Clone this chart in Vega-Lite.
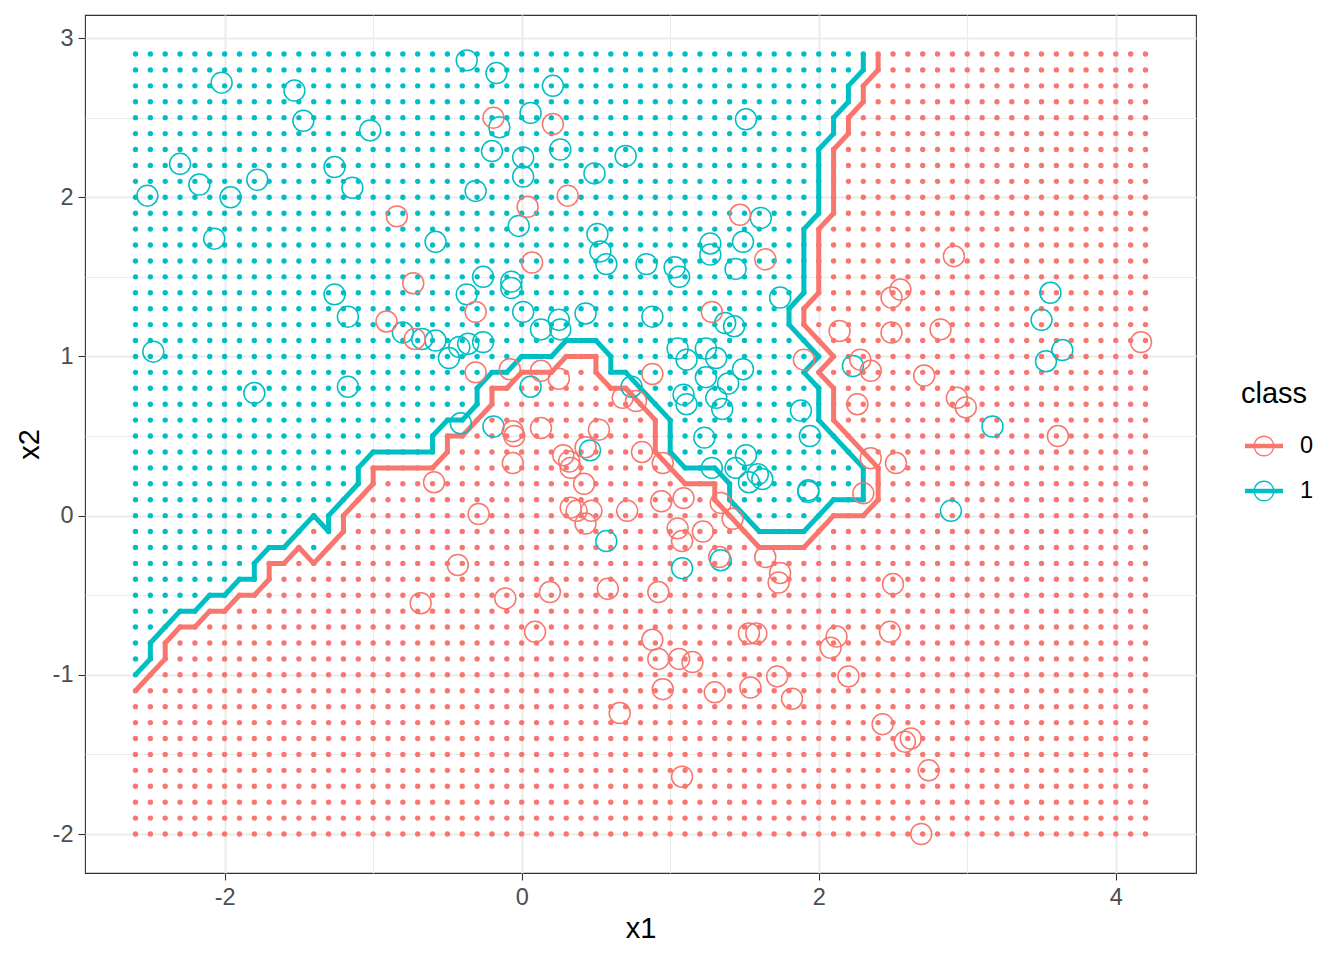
{
"$schema":"https://vega.github.io/schema/vega-lite/v6.json",
"width":1111,"height":858,
"autosize":{"type":"none"},
"padding":{"left":85,"top":15,"right":148,"bottom":87},
"background":"white",
"config":{"font":"Liberation Sans","view":{"stroke":"#333333","strokeWidth":1.1}},
"datasets":{
"grid":[
{"class":"1","x2":[2.9,2.8],"x1":[-2.6,-2.5,-2.4,-2.3,-2.2,-2.1,-2,-1.9,-1.8,-1.7,-1.6,-1.5,-1.4,-1.3,-1.2,-1.1,-1,-0.9,-0.8,-0.7,-0.6,-0.5,-0.4,-0.3,-0.2,-0.1,0,0.1,0.2,0.3,0.4,0.5,0.6,0.7,0.8,0.9,1,1.1,1.2,1.3,1.4,1.5,1.6,1.7,1.8,1.9,2,2.1,2.2,2.3]},
{"class":"1","x2":[2.7,2.6],"x1":[-2.6,-2.5,-2.4,-2.3,-2.2,-2.1,-2,-1.9,-1.8,-1.7,-1.6,-1.5,-1.4,-1.3,-1.2,-1.1,-1,-0.9,-0.8,-0.7,-0.6,-0.5,-0.4,-0.3,-0.2,-0.1,0,0.1,0.2,0.3,0.4,0.5,0.6,0.7,0.8,0.9,1,1.1,1.2,1.3,1.4,1.5,1.6,1.7,1.8,1.9,2,2.1,2.2]},
{"class":"0","x2":[2.7,2.6],"x1":[2.3]},
{"class":"1","x2":[2.5,2.4],"x1":[-2.6,-2.5,-2.4,-2.3,-2.2,-2.1,-2,-1.9,-1.8,-1.7,-1.6,-1.5,-1.4,-1.3,-1.2,-1.1,-1,-0.9,-0.8,-0.7,-0.6,-0.5,-0.4,-0.3,-0.2,-0.1,0,0.1,0.2,0.3,0.4,0.5,0.6,0.7,0.8,0.9,1,1.1,1.2,1.3,1.4,1.5,1.6,1.7,1.8,1.9,2,2.1]},
{"class":"0","x2":[2.5,2.4],"x1":[2.2,2.3]},
{"class":"1","x2":[2.3,2.2,2.1,2,1.9],"x1":[-2.6,-2.5,-2.4,-2.3,-2.2,-2.1,-2,-1.9,-1.8,-1.7,-1.6,-1.5,-1.4,-1.3,-1.2,-1.1,-1,-0.9,-0.8,-0.7,-0.6,-0.5,-0.4,-0.3,-0.2,-0.1,0,0.1,0.2,0.3,0.4,0.5,0.6,0.7,0.8,0.9,1,1.1,1.2,1.3,1.4,1.5,1.6,1.7,1.8,1.9,2]},
{"class":"0","x2":[2.3,2.2,2.1,2,1.9],"x1":[2.1,2.2,2.3]},
{"class":"1","x2":[1.8,1.7,1.6,1.5,1.4,1.1],"x1":[-2.6,-2.5,-2.4,-2.3,-2.2,-2.1,-2,-1.9,-1.8,-1.7,-1.6,-1.5,-1.4,-1.3,-1.2,-1.1,-1,-0.9,-0.8,-0.7,-0.6,-0.5,-0.4,-0.3,-0.2,-0.1,0,0.1,0.2,0.3,0.4,0.5,0.6,0.7,0.8,0.9,1,1.1,1.2,1.3,1.4,1.5,1.6,1.7,1.8,1.9]},
{"class":"0","x2":[1.8,1.7,1.6,1.5,1.4,1.1],"x1":[2,2.1,2.2,2.3]},
{"class":"1","x2":[1.3,1.2],"x1":[-2.6,-2.5,-2.4,-2.3,-2.2,-2.1,-2,-1.9,-1.8,-1.7,-1.6,-1.5,-1.4,-1.3,-1.2,-1.1,-1,-0.9,-0.8,-0.7,-0.6,-0.5,-0.4,-0.3,-0.2,-0.1,0,0.1,0.2,0.3,0.4,0.5,0.6,0.7,0.8,0.9,1,1.1,1.2,1.3,1.4,1.5,1.6,1.7,1.8]},
{"class":"0","x2":[1.3,1.2],"x1":[1.9,2,2.1,2.2,2.3]},
{"class":"1","x2":[1],"x1":[-2.6,-2.5,-2.4,-2.3,-2.2,-2.1,-2,-1.9,-1.8,-1.7,-1.6,-1.5,-1.4,-1.3,-1.2,-1.1,-1,-0.9,-0.8,-0.7,-0.6,-0.5,-0.4,-0.3,-0.2,-0.1,0,0.1,0.2]},
{"class":"0","x2":[1],"x1":[0.3,0.4,0.5]},
{"class":"1","x2":[1],"x1":[0.6,0.7,0.8,0.9,1,1.1,1.2,1.3,1.4,1.5,1.6,1.7,1.8,1.9,2]},
{"class":"0","x2":[1,0.8,0.7,0.6],"x1":[2.1,2.2,2.3]},
{"class":"1","x2":[0.9],"x1":[-2.6,-2.5,-2.4,-2.3,-2.2,-2.1,-2,-1.9,-1.8,-1.7,-1.6,-1.5,-1.4,-1.3,-1.2,-1.1,-1,-0.9,-0.8,-0.7,-0.6,-0.5,-0.4,-0.3,-0.2,-0.1]},
{"class":"0","x2":[0.9],"x1":[0,0.1,0.2,0.3,0.4,0.5]},
{"class":"1","x2":[0.9],"x1":[0.6,0.7,0.8,0.9,1,1.1,1.2,1.3,1.4,1.5,1.6,1.7,1.8,1.9]},
{"class":"0","x2":[0.9],"x1":[2,2.1,2.2,2.3]},
{"class":"1","x2":[0.8,0.7],"x1":[-2.6,-2.5,-2.4,-2.3,-2.2,-2.1,-2,-1.9,-1.8,-1.7,-1.6,-1.5,-1.4,-1.3,-1.2,-1.1,-1,-0.9,-0.8,-0.7,-0.6,-0.5,-0.4,-0.3]},
{"class":"0","x2":[0.8],"x1":[-0.2,-0.1,0,0.1,0.2,0.3,0.4,0.5,0.6,0.7]},
{"class":"1","x2":[0.8],"x1":[0.8,0.9,1,1.1,1.2,1.3,1.4,1.5,1.6,1.7,1.8,1.9,2]},
{"class":"0","x2":[0.7],"x1":[-0.2,-0.1,0,0.1,0.2,0.3,0.4,0.5,0.6,0.7,0.8]},
{"class":"1","x2":[0.7],"x1":[0.9,1,1.1,1.2,1.3,1.4,1.5,1.6,1.7,1.8,1.9,2]},
{"class":"1","x2":[0.6],"x1":[-2.6,-2.5,-2.4,-2.3,-2.2,-2.1,-2,-1.9,-1.8,-1.7,-1.6,-1.5,-1.4,-1.3,-1.2,-1.1,-1,-0.9,-0.8,-0.7,-0.6,-0.5,-0.4]},
{"class":"0","x2":[0.6],"x1":[-0.3,-0.2,-0.1,0,0.1,0.2,0.3,0.4,0.5,0.6,0.7,0.8,0.9]},
{"class":"1","x2":[0.6],"x1":[1,1.1,1.2,1.3,1.4,1.5,1.6,1.7,1.8,1.9,2]},
{"class":"1","x2":[0.5,0.4],"x1":[-2.6,-2.5,-2.4,-2.3,-2.2,-2.1,-2,-1.9,-1.8,-1.7,-1.6,-1.5,-1.4,-1.3,-1.2,-1.1,-1,-0.9,-0.8,-0.7,-0.6]},
{"class":"0","x2":[0.5,0.4],"x1":[-0.5,-0.4,-0.3,-0.2,-0.1,0,0.1,0.2,0.3,0.4,0.5,0.6,0.7,0.8,0.9]},
{"class":"1","x2":[0.5],"x1":[1,1.1,1.2,1.3,1.4,1.5,1.6,1.7,1.8,1.9,2,2.1]},
{"class":"0","x2":[0.5],"x1":[2.2,2.3]},
{"class":"1","x2":[0.4],"x1":[1,1.1,1.2,1.3,1.4,1.5,1.6,1.7,1.8,1.9,2,2.1,2.2]},
{"class":"0","x2":[0.4],"x1":[2.3]},
{"class":"1","x2":[0.3,0.2],"x1":[-2.6,-2.5,-2.4,-2.3,-2.2,-2.1,-2,-1.9,-1.8,-1.7,-1.6,-1.5,-1.4,-1.3,-1.2,-1.1]},
{"class":"0","x2":[0.3],"x1":[-1,-0.9,-0.8,-0.7,-0.6,-0.5,-0.4,-0.3,-0.2,-0.1,0,0.1,0.2,0.3,0.4,0.5,0.6,0.7,0.8,0.9,1]},
{"class":"1","x2":[0.3],"x1":[1.1,1.2,1.3,1.4,1.5,1.6,1.7,1.8,1.9,2,2.1,2.2,2.3]},
{"class":"0","x2":[0.2],"x1":[-1,-0.9,-0.8,-0.7,-0.6,-0.5,-0.4,-0.3,-0.2,-0.1,0,0.1,0.2,0.3,0.4,0.5,0.6,0.7,0.8,0.9,1,1.1,1.2,1.3]},
{"class":"1","x2":[0.2,0.1],"x1":[1.4,1.5,1.6,1.7,1.8,1.9,2,2.1,2.2,2.3]},
{"class":"1","x2":[0.1],"x1":[-2.6,-2.5,-2.4,-2.3,-2.2,-2.1,-2,-1.9,-1.8,-1.7,-1.6,-1.5,-1.4,-1.3,-1.2]},
{"class":"0","x2":[0.1],"x1":[-1.1,-1,-0.9,-0.8,-0.7,-0.6,-0.5,-0.4,-0.3,-0.2,-0.1,0,0.1,0.2,0.3,0.4,0.5,0.6,0.7,0.8,0.9,1,1.1,1.2,1.3]},
{"class":"1","x2":[0],"x1":[-2.6,-2.5,-2.4,-2.3,-2.2,-2.1,-2,-1.9,-1.8,-1.7,-1.6,-1.5,-1.4,-1.3,1.5,1.6,1.7,1.8,1.9,2]},
{"class":"0","x2":[0],"x1":[-1.2,-1.1,-1,-0.9,-0.8,-0.7,-0.6,-0.5,-0.4,-0.3,-0.2,-0.1,0,0.1,0.2,0.3,0.4,0.5,0.6,0.7,0.8,0.9,1,1.1,1.2,1.3,1.4,2.1,2.2,2.3]},
{"class":"1","x2":[-0.1],"x1":[-2.6,-2.5,-2.4,-2.3,-2.2,-2.1,-2,-1.9,-1.8,-1.7,-1.6,-1.5,-1.3,1.6,1.7,1.8,1.9]},
{"class":"0","x2":[-0.1],"x1":[-1.4,-1.2,-1.1,-1,-0.9,-0.8,-0.7,-0.6,-0.5,-0.4,-0.3,-0.2,-0.1,0,0.1,0.2,0.3,0.4,0.5,0.6,0.7,0.8,0.9,1,1.1,1.2,1.3,1.4,1.5,2,2.1,2.2,2.3]},
{"class":"1","x2":[-0.2],"x1":[-2.6,-2.5,-2.4,-2.3,-2.2,-2.1,-2,-1.9,-1.8,-1.7,-1.6,-1.4]},
{"class":"0","x2":[-0.2],"x1":[-1.5,-1.3,-1.2,-1.1,-1,-0.9,-0.8,-0.7,-0.6,-0.5,-0.4,-0.3,-0.2,-0.1,0,0.1,0.2,0.3,0.4,0.5,0.6,0.7,0.8,0.9,1,1.1,1.2,1.3,1.4,1.5,1.6,1.7,1.8,1.9,2,2.1,2.2,2.3]},
{"class":"1","x2":[-0.3,-0.4],"x1":[-2.6,-2.5,-2.4,-2.3,-2.2,-2.1,-2,-1.9,-1.8]},
{"class":"0","x2":[-0.3,-0.4],"x1":[-1.7,-1.6,-1.5,-1.4,-1.3,-1.2,-1.1,-1,-0.9,-0.8,-0.7,-0.6,-0.5,-0.4,-0.3,-0.2,-0.1,0,0.1,0.2,0.3,0.4,0.5,0.6,0.7,0.8,0.9,1,1.1,1.2,1.3,1.4,1.5,1.6,1.7,1.8,1.9,2,2.1,2.2,2.3]},
{"class":"1","x2":[-0.5],"x1":[-2.6,-2.5,-2.4,-2.3,-2.2,-2.1,-2]},
{"class":"0","x2":[-0.5],"x1":[-1.9,-1.8,-1.7,-1.6,-1.5,-1.4,-1.3,-1.2,-1.1,-1,-0.9,-0.8,-0.7,-0.6,-0.5,-0.4,-0.3,-0.2,-0.1,0,0.1,0.2,0.3,0.4,0.5,0.6,0.7,0.8,0.9,1,1.1,1.2,1.3,1.4,1.5,1.6,1.7,1.8,1.9,2,2.1,2.2,2.3]},
{"class":"1","x2":[-0.6],"x1":[-2.6,-2.5,-2.4,-2.3,-2.2]},
{"class":"0","x2":[-0.6],"x1":[-2.1,-2,-1.9,-1.8,-1.7,-1.6,-1.5,-1.4,-1.3,-1.2,-1.1,-1,-0.9,-0.8,-0.7,-0.6,-0.5,-0.4,-0.3,-0.2,-0.1,0,0.1,0.2,0.3,0.4,0.5,0.6,0.7,0.8,0.9,1,1.1,1.2,1.3,1.4,1.5,1.6,1.7,1.8,1.9,2,2.1,2.2,2.3]},
{"class":"1","x2":[-0.7],"x1":[-2.6,-2.5,-2.4]},
{"class":"0","x2":[-0.7],"x1":[-2.3,-2.2,-2.1,-2,-1.9,-1.8,-1.7,-1.6,-1.5,-1.4,-1.3,-1.2,-1.1,-1,-0.9,-0.8,-0.7,-0.6,-0.5,-0.4,-0.3,-0.2,-0.1,0,0.1,0.2,0.3,0.4,0.5,0.6,0.7,0.8,0.9,1,1.1,1.2,1.3,1.4,1.5,1.6,1.7,1.8,1.9,2,2.1,2.2,2.3]},
{"class":"1","x2":[-0.8,-0.9],"x1":[-2.6,-2.5]},
{"class":"0","x2":[-0.8,-0.9],"x1":[-2.4,-2.3,-2.2,-2.1,-2,-1.9,-1.8,-1.7,-1.6,-1.5,-1.4,-1.3,-1.2,-1.1,-1,-0.9,-0.8,-0.7,-0.6,-0.5,-0.4,-0.3,-0.2,-0.1,0,0.1,0.2,0.3,0.4,0.5,0.6,0.7,0.8,0.9,1,1.1,1.2,1.3,1.4,1.5,1.6,1.7,1.8,1.9,2,2.1,2.2,2.3]},
{"class":"1","x2":[-1],"x1":[-2.6]},
{"class":"0","x2":[-1],"x1":[-2.5,-2.4,-2.3,-2.2,-2.1,-2,-1.9,-1.8,-1.7,-1.6,-1.5,-1.4,-1.3,-1.2,-1.1,-1,-0.9,-0.8,-0.7,-0.6,-0.5,-0.4,-0.3,-0.2,-0.1,0,0.1,0.2,0.3,0.4,0.5,0.6,0.7,0.8,0.9,1,1.1,1.2,1.3,1.4,1.5,1.6,1.7,1.8,1.9,2,2.1,2.2,2.3]},
{"class":"0","x2":[-1.1,-1.2,-1.3,-1.4,-1.5,-1.6,-1.7,-1.8,-1.9,-2],"x1":[-2.6,-2.5,-2.4,-2.3,-2.2,-2.1,-2,-1.9,-1.8,-1.7,-1.6,-1.5,-1.4,-1.3,-1.2,-1.1,-1,-0.9,-0.8,-0.7,-0.6,-0.5,-0.4,-0.3,-0.2,-0.1,0,0.1,0.2,0.3,0.4,0.5,0.6,0.7,0.8,0.9,1,1.1,1.2,1.3,1.4,1.5,1.6,1.7,1.8,1.9,2,2.1,2.2,2.3]},
{"class":"0","x2":[2.9,2.8,2.7,2.6,2.5,2.4,2.3,2.2,2.1,2,1.9,1.8,1.7,1.6,1.5,1.4,1.3,1.2,1.1,1,0.9,0.8,0.7,0.6,0.5,0.4,0.3,0.2,0.1,0,-0.1,-0.2,-0.3,-0.4,-0.5,-0.6,-0.7,-0.8,-0.9,-1,-1.1,-1.2,-1.3,-1.4,-1.5,-1.6,-1.7,-1.8,-1.9,-2],"x1":[2.4,2.5,2.6,2.7,2.8,2.9,3,3.1,3.2,3.3,3.4,3.5,3.6,3.7,3.8,3.9,4,4.1,4.2]}
],
"lines":[
{"class":"1","o":0,"x1":-2.6,"x2":-1},{"class":"1","o":1,"x1":-2.5,"x2":-0.9},{"class":"1","o":2,"x1":-2.5,"x2":-0.8},{"class":"1","o":3,"x1":-2.4,"x2":-0.7},{"class":"1","o":4,"x1":-2.3,"x2":-0.6},{"class":"1","o":5,"x1":-2.2,"x2":-0.6},{"class":"1","o":6,"x1":-2.1,"x2":-0.5},{"class":"1","o":7,"x1":-2,"x2":-0.5},{"class":"1","o":8,"x1":-1.9,"x2":-0.4},{"class":"1","o":9,"x1":-1.8,"x2":-0.4},{"class":"1","o":10,"x1":-1.8,"x2":-0.3},{"class":"1","o":11,"x1":-1.7,"x2":-0.2},{"class":"1","o":12,"x1":-1.6,"x2":-0.2},{"class":"1","o":13,"x1":-1.5,"x2":-0.1},{"class":"1","o":14,"x1":-1.4,"x2":0},{"class":"1","o":15,"x1":-1.3,"x2":-0.1},{"class":"1","o":16,"x1":-1.3,"x2":0},{"class":"1","o":17,"x1":-1.2,"x2":0.1},{"class":"1","o":18,"x1":-1.1,"x2":0.2},{"class":"1","o":19,"x1":-1.1,"x2":0.3},{"class":"1","o":20,"x1":-1,"x2":0.4},{"class":"1","o":21,"x1":-0.6,"x2":0.4},{"class":"1","o":22,"x1":-0.6,"x2":0.5},{"class":"1","o":23,"x1":-0.5,"x2":0.6},{"class":"1","o":24,"x1":-0.4,"x2":0.6},{"class":"1","o":25,"x1":-0.3,"x2":0.7},{"class":"1","o":26,"x1":-0.3,"x2":0.8},{"class":"1","o":27,"x1":-0.2,"x2":0.9},{"class":"1","o":28,"x1":-0.1,"x2":0.9},{"class":"1","o":29,"x1":0,"x2":1},{"class":"1","o":30,"x1":0.2,"x2":1},{"class":"1","o":31,"x1":0.3,"x2":1.1},{"class":"1","o":32,"x1":0.5,"x2":1.1},{"class":"1","o":33,"x1":0.6,"x2":1},{"class":"1","o":34,"x1":0.6,"x2":0.9},{"class":"1","o":35,"x1":0.7,"x2":0.9},{"class":"1","o":36,"x1":1,"x2":0.6},{"class":"1","o":37,"x1":1,"x2":0.4},{"class":"1","o":38,"x1":1.1,"x2":0.3},{"class":"1","o":39,"x1":1.3,"x2":0.3},{"class":"1","o":40,"x1":1.4,"x2":0.2},{"class":"1","o":41,"x1":1.4,"x2":0.1},{"class":"1","o":42,"x1":1.6,"x2":-0.1},{"class":"1","o":43,"x1":1.9,"x2":-0.1},{"class":"1","o":44,"x1":2.1,"x2":0.1},{"class":"1","o":45,"x1":2.3,"x2":0.1},{"class":"1","o":46,"x1":2.3,"x2":0.3},{"class":"1","o":47,"x1":2,"x2":0.6},{"class":"1","o":48,"x1":2,"x2":0.8},{"class":"1","o":49,"x1":1.9,"x2":0.9},{"class":"1","o":50,"x1":2,"x2":1},{"class":"1","o":51,"x1":1.8,"x2":1.2},{"class":"1","o":52,"x1":1.8,"x2":1.3},{"class":"1","o":53,"x1":1.9,"x2":1.4},{"class":"1","o":54,"x1":1.9,"x2":1.8},{"class":"1","o":55,"x1":2,"x2":1.9},{"class":"1","o":56,"x1":2,"x2":2.3},{"class":"1","o":57,"x1":2.1,"x2":2.4},{"class":"1","o":58,"x1":2.1,"x2":2.5},{"class":"1","o":59,"x1":2.2,"x2":2.6},{"class":"1","o":60,"x1":2.2,"x2":2.7},{"class":"1","o":61,"x1":2.3,"x2":2.8},{"class":"1","o":62,"x1":2.3,"x2":2.9},
{"class":"0","o":0,"x1":-2.6,"x2":-1.1},{"class":"0","o":1,"x1":-2.5,"x2":-1},{"class":"0","o":2,"x1":-2.4,"x2":-0.9},{"class":"0","o":3,"x1":-2.4,"x2":-0.8},{"class":"0","o":4,"x1":-2.3,"x2":-0.7},{"class":"0","o":5,"x1":-2.2,"x2":-0.7},{"class":"0","o":6,"x1":-2.1,"x2":-0.6},{"class":"0","o":7,"x1":-2,"x2":-0.6},{"class":"0","o":8,"x1":-1.9,"x2":-0.5},{"class":"0","o":9,"x1":-1.8,"x2":-0.5},{"class":"0","o":10,"x1":-1.7,"x2":-0.4},{"class":"0","o":11,"x1":-1.7,"x2":-0.3},{"class":"0","o":12,"x1":-1.6,"x2":-0.3},{"class":"0","o":13,"x1":-1.5,"x2":-0.2},{"class":"0","o":14,"x1":-1.4,"x2":-0.3},{"class":"0","o":15,"x1":-1.3,"x2":-0.2},{"class":"0","o":16,"x1":-1.2,"x2":-0.1},{"class":"0","o":17,"x1":-1.2,"x2":0},{"class":"0","o":18,"x1":-1.1,"x2":0.1},{"class":"0","o":19,"x1":-1,"x2":0.2},{"class":"0","o":20,"x1":-1,"x2":0.3},{"class":"0","o":21,"x1":-0.6,"x2":0.3},{"class":"0","o":22,"x1":-0.5,"x2":0.4},{"class":"0","o":23,"x1":-0.5,"x2":0.5},{"class":"0","o":24,"x1":-0.4,"x2":0.5},{"class":"0","o":25,"x1":-0.3,"x2":0.6},{"class":"0","o":26,"x1":-0.2,"x2":0.7},{"class":"0","o":27,"x1":-0.2,"x2":0.8},{"class":"0","o":28,"x1":-0.1,"x2":0.8},{"class":"0","o":29,"x1":0,"x2":0.9},{"class":"0","o":30,"x1":0.2,"x2":0.9},{"class":"0","o":31,"x1":0.3,"x2":1},{"class":"0","o":32,"x1":0.5,"x2":1},{"class":"0","o":33,"x1":0.5,"x2":0.9},{"class":"0","o":34,"x1":0.6,"x2":0.8},{"class":"0","o":35,"x1":0.7,"x2":0.8},{"class":"0","o":36,"x1":0.9,"x2":0.6},{"class":"0","o":37,"x1":0.9,"x2":0.4},{"class":"0","o":38,"x1":1.1,"x2":0.2},{"class":"0","o":39,"x1":1.3,"x2":0.2},{"class":"0","o":40,"x1":1.3,"x2":0.1},{"class":"0","o":41,"x1":1.6,"x2":-0.2},{"class":"0","o":42,"x1":1.9,"x2":-0.2},{"class":"0","o":43,"x1":2.1,"x2":0},{"class":"0","o":44,"x1":2.3,"x2":0},{"class":"0","o":45,"x1":2.4,"x2":0.1},{"class":"0","o":46,"x1":2.4,"x2":0.3},{"class":"0","o":47,"x1":2.1,"x2":0.6},{"class":"0","o":48,"x1":2.1,"x2":0.8},{"class":"0","o":49,"x1":2,"x2":0.9},{"class":"0","o":50,"x1":2.1,"x2":1},{"class":"0","o":51,"x1":1.9,"x2":1.2},{"class":"0","o":52,"x1":1.9,"x2":1.3},{"class":"0","o":53,"x1":2,"x2":1.4},{"class":"0","o":54,"x1":2,"x2":1.8},{"class":"0","o":55,"x1":2.1,"x2":1.9},{"class":"0","o":56,"x1":2.1,"x2":2.3},{"class":"0","o":57,"x1":2.2,"x2":2.4},{"class":"0","o":58,"x1":2.2,"x2":2.5},{"class":"0","o":59,"x1":2.3,"x2":2.6},{"class":"0","o":60,"x1":2.3,"x2":2.7},{"class":"0","o":61,"x1":2.4,"x2":2.8},{"class":"0","o":62,"x1":2.4,"x2":2.9}
],
"pts":[
{"x1":-2.52,"x2":2.01,"class":"1"},{"x1":-2.3,"x2":2.21,"class":"1"},{"x1":-2.17,"x2":2.08,"class":"1"},{"x1":-2.02,"x2":2.72,"class":"1"},{"x1":-2.07,"x2":1.74,"class":"1"},{"x1":-1.96,"x2":2.0,"class":"1"},{"x1":-1.78,"x2":2.11,"class":"1"},{"x1":-1.53,"x2":2.67,"class":"1"},{"x1":-1.47,"x2":2.48,"class":"1"},{"x1":-1.26,"x2":2.19,"class":"1"},{"x1":-1.14,"x2":2.06,"class":"1"},{"x1":-1.02,"x2":2.42,"class":"1"},{"x1":-0.58,"x2":1.72,"class":"1"},{"x1":-0.37,"x2":2.86,"class":"1"},{"x1":-0.17,"x2":2.78,"class":"1"},{"x1":0.21,"x2":2.7,"class":"1"},{"x1":-0.15,"x2":2.44,"class":"1"},{"x1":0.06,"x2":2.53,"class":"1"},{"x1":-0.2,"x2":2.29,"class":"1"},{"x1":0.26,"x2":2.3,"class":"1"},{"x1":0.01,"x2":2.25,"class":"1"},{"x1":0.01,"x2":2.13,"class":"1"},{"x1":0.7,"x2":2.26,"class":"1"},{"x1":0.49,"x2":2.15,"class":"1"},{"x1":-0.31,"x2":2.04,"class":"1"},{"x1":-0.02,"x2":1.82,"class":"1"},{"x1":0.51,"x2":1.77,"class":"1"},{"x1":0.53,"x2":1.66,"class":"1"},{"x1":0.57,"x2":1.58,"class":"1"},{"x1":0.84,"x2":1.58,"class":"1"},{"x1":1.03,"x2":1.56,"class":"1"},{"x1":1.06,"x2":1.5,"class":"1"},{"x1":1.27,"x2":1.71,"class":"1"},{"x1":1.27,"x2":1.64,"class":"1"},{"x1":1.49,"x2":1.72,"class":"1"},{"x1":1.61,"x2":1.87,"class":"1"},{"x1":1.44,"x2":1.55,"class":"1"},{"x1":1.51,"x2":2.49,"class":"1"},{"x1":1.74,"x2":1.37,"class":"1"},{"x1":-0.26,"x2":1.5,"class":"1"},{"x1":-0.07,"x2":1.47,"class":"1"},{"x1":-0.07,"x2":1.43,"class":"1"},{"x1":-0.37,"x2":1.39,"class":"1"},{"x1":-1.26,"x2":1.39,"class":"1"},{"x1":-1.17,"x2":1.25,"class":"1"},{"x1":-2.48,"x2":1.03,"class":"1"},{"x1":-1.8,"x2":0.77,"class":"1"},{"x1":-1.17,"x2":0.81,"class":"1"},{"x1":-0.8,"x2":1.15,"class":"1"},{"x1":-0.67,"x2":1.11,"class":"1"},{"x1":-0.58,"x2":1.1,"class":"1"},{"x1":-0.49,"x2":0.99,"class":"1"},{"x1":-0.42,"x2":1.06,"class":"1"},{"x1":-0.36,"x2":1.08,"class":"1"},{"x1":-0.26,"x2":1.09,"class":"1"},{"x1":-0.41,"x2":0.58,"class":"1"},{"x1":0.01,"x2":1.28,"class":"1"},{"x1":0.13,"x2":1.17,"class":"1"},{"x1":0.25,"x2":1.23,"class":"1"},{"x1":0.26,"x2":1.17,"class":"1"},{"x1":0.43,"x2":1.27,"class":"1"},{"x1":0.88,"x2":1.25,"class":"1"},{"x1":1.37,"x2":1.21,"class":"1"},{"x1":1.43,"x2":1.19,"class":"1"},{"x1":0.06,"x2":0.81,"class":"1"},{"x1":0.74,"x2":0.81,"class":"1"},{"x1":-0.19,"x2":0.56,"class":"1"},{"x1":0.46,"x2":0.41,"class":"1"},{"x1":0.57,"x2":-0.16,"class":"1"},{"x1":1.34,"x2":-0.28,"class":"1"},{"x1":1.08,"x2":-0.33,"class":"1"},{"x1":1.05,"x2":1.05,"class":"1"},{"x1":1.11,"x2":0.98,"class":"1"},{"x1":1.24,"x2":1.05,"class":"1"},{"x1":1.31,"x2":0.99,"class":"1"},{"x1":1.49,"x2":0.92,"class":"1"},{"x1":1.24,"x2":0.87,"class":"1"},{"x1":1.39,"x2":0.83,"class":"1"},{"x1":1.09,"x2":0.76,"class":"1"},{"x1":1.11,"x2":0.7,"class":"1"},{"x1":1.31,"x2":0.74,"class":"1"},{"x1":1.35,"x2":0.67,"class":"1"},{"x1":1.23,"x2":0.49,"class":"1"},{"x1":1.51,"x2":0.38,"class":"1"},{"x1":1.44,"x2":0.3,"class":"1"},{"x1":1.28,"x2":0.3,"class":"1"},{"x1":1.59,"x2":0.26,"class":"1"},{"x1":1.62,"x2":0.23,"class":"1"},{"x1":1.53,"x2":0.21,"class":"1"},{"x1":1.88,"x2":0.66,"class":"1"},{"x1":1.94,"x2":0.5,"class":"1"},{"x1":1.93,"x2":0.16,"class":"1"},{"x1":1.93,"x2":0.15,"class":"1"},{"x1":2.23,"x2":0.94,"class":"1"},{"x1":3.5,"x2":1.23,"class":"1"},{"x1":3.56,"x2":1.4,"class":"1"},{"x1":3.64,"x2":1.04,"class":"1"},{"x1":3.53,"x2":0.97,"class":"1"},{"x1":3.17,"x2":0.56,"class":"1"},{"x1":2.89,"x2":0.03,"class":"1"},
{"x1":-0.84,"x2":1.88,"class":"0"},{"x1":-0.73,"x2":1.46,"class":"0"},{"x1":-0.19,"x2":2.5,"class":"0"},{"x1":0.21,"x2":2.46,"class":"0"},{"x1":0.31,"x2":2.01,"class":"0"},{"x1":0.04,"x2":1.94,"class":"0"},{"x1":0.07,"x2":1.59,"class":"0"},{"x1":1.47,"x2":1.89,"class":"0"},{"x1":1.64,"x2":1.61,"class":"0"},{"x1":-0.31,"x2":1.28,"class":"0"},{"x1":1.28,"x2":1.28,"class":"0"},{"x1":-0.91,"x2":1.22,"class":"0"},{"x1":-0.72,"x2":1.11,"class":"0"},{"x1":-0.59,"x2":0.21,"class":"0"},{"x1":-0.43,"x2":-0.31,"class":"0"},{"x1":-0.31,"x2":0.9,"class":"0"},{"x1":-0.08,"x2":0.92,"class":"0"},{"x1":0.13,"x2":0.91,"class":"0"},{"x1":0.25,"x2":0.86,"class":"0"},{"x1":0.88,"x2":0.89,"class":"0"},{"x1":0.68,"x2":0.74,"class":"0"},{"x1":0.77,"x2":0.72,"class":"0"},{"x1":-0.06,"x2":0.53,"class":"0"},{"x1":-0.05,"x2":0.5,"class":"0"},{"x1":0.13,"x2":0.55,"class":"0"},{"x1":0.52,"x2":0.54,"class":"0"},{"x1":0.43,"x2":0.43,"class":"0"},{"x1":0.28,"x2":0.38,"class":"0"},{"x1":0.32,"x2":0.34,"class":"0"},{"x1":0.33,"x2":0.3,"class":"0"},{"x1":-0.06,"x2":0.33,"class":"0"},{"x1":0.81,"x2":0.4,"class":"0"},{"x1":0.95,"x2":0.33,"class":"0"},{"x1":0.42,"x2":0.2,"class":"0"},{"x1":0.33,"x2":0.05,"class":"0"},{"x1":0.37,"x2":0.03,"class":"0"},{"x1":0.47,"x2":0.03,"class":"0"},{"x1":0.43,"x2":-0.05,"class":"0"},{"x1":0.71,"x2":0.03,"class":"0"},{"x1":-0.29,"x2":0.01,"class":"0"},{"x1":0.94,"x2":0.09,"class":"0"},{"x1":1.09,"x2":0.11,"class":"0"},{"x1":1.05,"x2":-0.08,"class":"0"},{"x1":1.08,"x2":-0.16,"class":"0"},{"x1":1.22,"x2":-0.1,"class":"0"},{"x1":1.42,"x2":-0.02,"class":"0"},{"x1":1.34,"x2":0.08,"class":"0"},{"x1":1.33,"x2":-0.26,"class":"0"},{"x1":1.64,"x2":-0.26,"class":"0"},{"x1":1.74,"x2":-0.36,"class":"0"},{"x1":1.73,"x2":-0.42,"class":"0"},{"x1":-0.68,"x2":-0.55,"class":"0"},{"x1":-0.11,"x2":-0.52,"class":"0"},{"x1":0.19,"x2":-0.48,"class":"0"},{"x1":0.58,"x2":-0.46,"class":"0"},{"x1":0.92,"x2":-0.48,"class":"0"},{"x1":0.09,"x2":-0.73,"class":"0"},{"x1":0.88,"x2":-0.78,"class":"0"},{"x1":0.92,"x2":-0.9,"class":"0"},{"x1":1.06,"x2":-0.9,"class":"0"},{"x1":1.15,"x2":-0.92,"class":"0"},{"x1":1.53,"x2":-0.74,"class":"0"},{"x1":1.58,"x2":-0.74,"class":"0"},{"x1":0.95,"x2":-1.09,"class":"0"},{"x1":1.3,"x2":-1.11,"class":"0"},{"x1":1.54,"x2":-1.08,"class":"0"},{"x1":1.72,"x2":-1.01,"class":"0"},{"x1":1.82,"x2":-1.15,"class":"0"},{"x1":0.66,"x2":-1.24,"class":"0"},{"x1":1.08,"x2":-1.64,"class":"0"},{"x1":2.12,"x2":-0.76,"class":"0"},{"x1":2.08,"x2":-0.83,"class":"0"},{"x1":2.48,"x2":-0.73,"class":"0"},{"x1":2.2,"x2":-1.01,"class":"0"},{"x1":2.43,"x2":-1.31,"class":"0"},{"x1":2.58,"x2":-1.42,"class":"0"},{"x1":2.62,"x2":-1.4,"class":"0"},{"x1":2.74,"x2":-1.6,"class":"0"},{"x1":2.69,"x2":-2.0,"class":"0"},{"x1":2.5,"x2":-0.43,"class":"0"},{"x1":2.14,"x2":1.16,"class":"0"},{"x1":2.49,"x2":1.15,"class":"0"},{"x1":2.82,"x2":1.17,"class":"0"},{"x1":4.17,"x2":1.09,"class":"0"},{"x1":2.28,"x2":0.98,"class":"0"},{"x1":2.35,"x2":0.91,"class":"0"},{"x1":2.71,"x2":0.88,"class":"0"},{"x1":2.26,"x2":0.7,"class":"0"},{"x1":2.93,"x2":0.74,"class":"0"},{"x1":2.99,"x2":0.68,"class":"0"},{"x1":3.61,"x2":0.5,"class":"0"},{"x1":2.35,"x2":0.36,"class":"0"},{"x1":2.52,"x2":0.33,"class":"0"},{"x1":2.3,"x2":0.14,"class":"0"},{"x1":2.91,"x2":1.63,"class":"0"},{"x1":2.55,"x2":1.42,"class":"0"},{"x1":2.49,"x2":1.37,"class":"0"},{"x1":1.9,"x2":0.98,"class":"0"}
]
},
"layer":[
{"data":{"name":"grid"},
 "transform":[{"flatten":["x2"]},{"flatten":["x1"]}],
 "mark":{"type":"point","filled":true,"size":29,"opacity":1,"strokeWidth":0},
 "encoding":{
  "x":{"field":"x1","type":"quantitative","scale":{"domain":[-2.94,4.54],"nice":false,"zero":false},
   "axis":{"values":[-2,-1,0,1,2,3,4],"labelExpr":"datum.value % 2 === 0 ? '' + datum.value : ''","grid":true,"gridColor":"#EBEBEB","gridWidth":{"condition":{"test":"datum.value % 2 === 0","value":2.1},"value":1.1},"tickOpacity":{"condition":{"test":"datum.value % 2 === 0","value":1},"value":0},"domain":false,"tickColor":"#333333","tickWidth":1.1,"tickSize":7,"labelPadding":5,"labelFontSize":23.5,"labelColor":"#4D4D4D","title":"x1","titleFontSize":29,"titleFontWeight":"normal","titleColor":"black","titlePadding":6}},
  "y":{"field":"x2","type":"quantitative","scale":{"domain":[-2.245,3.145],"nice":false,"zero":false},
   "axis":{"values":[-2,-1.5,-1,-0.5,0,0.5,1,1.5,2,2.5,3],"labelExpr":"datum.value % 1 === 0 ? '' + datum.value : ''","grid":true,"gridColor":"#EBEBEB","gridWidth":{"condition":{"test":"datum.value % 1 === 0","value":2.1},"value":1.1},"tickOpacity":{"condition":{"test":"datum.value % 1 === 0","value":1},"value":0},"domain":false,"tickColor":"#333333","tickWidth":1.1,"tickSize":7,"labelPadding":5,"labelFontSize":23.5,"labelColor":"#4D4D4D","title":"x2","titleFontSize":29,"titleFontWeight":"normal","titleColor":"black","titlePadding":8}},
  "color":{"field":"class","type":"nominal","scale":{"domain":["0","1"],"range":["#F8766D","#00BFC4"]},
   "legend":{"title":"class","orient":"none","legendX":1156,"legendY":365,"padding":0,
    "symbolType":"M-1,-0.12H1V0.12H-1Z M0.55,0A0.55,0.55 0 1,1 -0.55,0A0.55,0.55 0 1,1 0.55,0Z M0.48,0A0.48,0.48 0 1,0 -0.48,0A0.48,0.48 0 1,0 0.48,0Z",
    "symbolSize":1444,"symbolStrokeWidth":0,"symbolOpacity":1,"symbolOffset":4,
    "titleFontSize":29,"titleFontWeight":"normal","titleColor":"black","titlePadding":18,
    "labelFontSize":23.5,"labelColor":"black","labelOffset":17,"rowPadding":14}}
 }},
{"data":{"name":"lines"},
 "mark":{"type":"line","strokeWidth":5,"strokeJoin":"round","strokeCap":"butt"},
 "encoding":{
  "x":{"field":"x1","type":"quantitative"},
  "y":{"field":"x2","type":"quantitative"},
  "stroke":{"field":"class","type":"nominal","scale":{"domain":["0","1"],"range":["#F8766D","#00BFC4"]},"legend":null},
  "order":{"field":"o","type":"quantitative"}
 }},
{"data":{"name":"pts"},
 "mark":{"type":"point","filled":false,"size":440,"strokeWidth":1.5,"opacity":1},
 "encoding":{
  "x":{"field":"x1","type":"quantitative"},
  "y":{"field":"x2","type":"quantitative"},
  "stroke":{"field":"class","type":"nominal","scale":{"domain":["0","1"],"range":["#F8766D","#00BFC4"]},"legend":null}
 }}
]
}
